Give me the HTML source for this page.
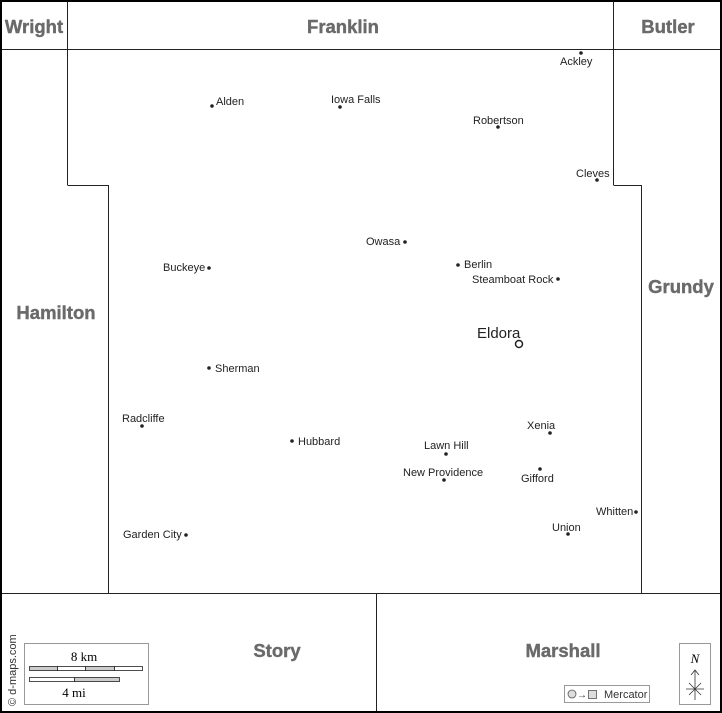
<!DOCTYPE html>
<html><head><style>body{margin:0;background:#fff}svg{display:block}</style></head><body>
<svg width="722" height="713" viewBox="0 0 722 713" xmlns="http://www.w3.org/2000/svg" font-family="Liberation Sans, sans-serif">
<rect x="0" y="0" width="722" height="713" fill="#fff"/>
<g stroke="#222" stroke-width="1" fill="none">
<line x1="0" y1="49.5" x2="722" y2="49.5"/>
<line x1="67.5" y1="0" x2="67.5" y2="185"/>
<line x1="613.5" y1="0" x2="613.5" y2="185"/>
<polyline points="67.5,185.5 108.5,185.5 108.5,593"/>
<polyline points="613.5,185.5 641.5,185.5 641.5,593"/>
<line x1="0" y1="593.5" x2="722" y2="593.5"/>
<line x1="376.5" y1="593" x2="376.5" y2="713"/>
</g>
<rect x="1" y="1" width="720" height="711" fill="none" stroke="#000" stroke-width="2"/>
<g fill="#6a6a6a" font-weight="bold" font-size="18.5" text-anchor="middle" stroke="#6a6a6a" stroke-width="0.4">
<text x="34" y="33">Wright</text>
<text x="343" y="33">Franklin</text>
<text x="668" y="33">Butler</text>
<text x="56" y="319">Hamilton</text>
<text x="681" y="293">Grundy</text>
<text x="277" y="657">Story</text>
<text x="563" y="657">Marshall</text>
</g>
<g fill="#222" font-size="11">
<circle cx="581" cy="53" r="1.8"/><text x="560" y="65">Ackley</text>
<circle cx="212" cy="106" r="1.8"/><text x="216" y="105">Alden</text>
<circle cx="340" cy="107" r="1.8"/><text x="331" y="103">Iowa Falls</text>
<circle cx="498" cy="127" r="1.8"/><text x="473" y="124">Robertson</text>
<circle cx="597" cy="180" r="1.8"/><text x="576" y="177">Cleves</text>
<circle cx="405" cy="242" r="1.8"/><text x="366" y="245">Owasa</text>
<circle cx="209" cy="268" r="1.8"/><text x="163" y="271">Buckeye</text>
<circle cx="458" cy="265" r="1.8"/><text x="464" y="268">Berlin</text>
<circle cx="558" cy="279" r="1.8"/><text x="472" y="283">Steamboat Rock</text>
<circle cx="209" cy="368" r="1.8"/><text x="215" y="372">Sherman</text>
<circle cx="142" cy="426" r="1.8"/><text x="122" y="422">Radcliffe</text>
<circle cx="292" cy="441" r="1.8"/><text x="298" y="445">Hubbard</text>
<circle cx="446" cy="454" r="1.8"/><text x="424" y="449">Lawn Hill</text>
<circle cx="550" cy="433" r="1.8"/><text x="527" y="429">Xenia</text>
<circle cx="444" cy="480" r="1.8"/><text x="403" y="476">New Providence</text>
<circle cx="540" cy="469" r="1.8"/><text x="521" y="482">Gifford</text>
<circle cx="636" cy="512" r="1.8"/><text x="596" y="515">Whitten</text>
<circle cx="568" cy="534" r="1.8"/><text x="552" y="531">Union</text>
<circle cx="186" cy="535" r="1.8"/><text x="123" y="538">Garden City</text>
<text x="477" y="338" font-size="15">Eldora</text>
</g>
<circle cx="519" cy="344" r="3.5" fill="none" stroke="#222" stroke-width="1.5"/>
<text transform="translate(16,706) rotate(-90)" font-size="11" fill="#333">© d-maps.com</text>
<rect x="24.5" y="643.5" width="124" height="61" fill="#fff" stroke="#999"/>
<text x="84" y="661" text-anchor="middle" font-family="Liberation Serif, serif" font-size="13">8 km</text>
<g stroke="#222" stroke-width="0.8">
<rect x="29.5" y="666.5" width="28" height="4" fill="#ccc"/>
<rect x="57.5" y="666.5" width="28" height="4" fill="#fff"/>
<rect x="85.5" y="666.5" width="29" height="4" fill="#ccc"/>
<rect x="114.5" y="666.5" width="28" height="4" fill="#fff"/>
<rect x="29.5" y="677.5" width="45" height="4" fill="#fff"/>
<rect x="74.5" y="677.5" width="45" height="4" fill="#ccc"/>
</g>
<text x="74" y="697" text-anchor="middle" font-family="Liberation Serif, serif" font-size="13">4 mi</text>
<rect x="679.5" y="643.5" width="31" height="61" fill="#fff" stroke="#999"/>
<text x="695" y="663" text-anchor="middle" font-family="Liberation Serif, serif" font-style="italic" font-size="13">N</text>
<g stroke="#333" stroke-width="0.8">
<line x1="695" y1="670" x2="695" y2="700"/><line x1="686" y1="689" x2="704" y2="689"/>
<line x1="689" y1="683" x2="701" y2="695"/><line x1="701" y1="683" x2="689" y2="695"/>
<polyline points="691,675 695,670 699,675" fill="none"/>
</g>
<rect x="564.5" y="685.5" width="85" height="17" fill="#fff" stroke="#999"/>
<circle cx="572" cy="694" r="4" fill="#ddd" stroke="#555" stroke-width="0.8"/>
<text x="577" y="698" font-size="10" fill="#333">→</text>
<rect x="588.5" y="690.5" width="8" height="8" fill="#ddd" stroke="#555" stroke-width="0.8"/>
<text x="604" y="698" font-size="11" fill="#333">Mercator</text>
</svg>
</body></html>
